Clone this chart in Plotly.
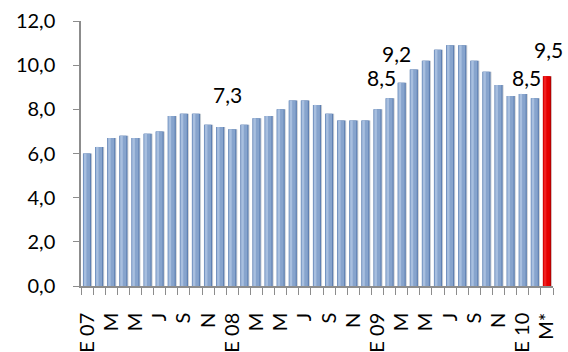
import plotly.graph_objects as go

# Monthly series, January 2007 to March 2010 (last month is provisional)
values = [
    6.0, 6.3, 6.7, 6.8, 6.7, 6.9, 7.0, 7.7, 7.8, 7.8, 7.3, 7.2,   # 2007
    7.1, 7.3, 7.6, 7.7, 8.0, 8.4, 8.4, 8.2, 7.8, 7.5, 7.5, 7.5,   # 2008
    8.0, 8.5, 9.2, 9.8, 10.2, 10.7, 10.9, 10.9, 10.2, 9.7, 9.1, 8.6,  # 2009
    8.7, 8.5, 9.5,                                                # 2010
]
# Tick labels, one every second month starting in January 2007
tick_labels = ["E 07", "M", "M", "J", "S", "N",
               "E 08", "M", "M", "J", "S", "N",
               "E 09", "M", "M", "J", "S", "N",
               "E 10", "M*"]
# Months that carry a value label: (bar index, x shift px, y shift px)
labelled = [(13, -17, 30), (25, -8, 21), (26, -5, 29), (37, -8, 21), (38, 2, 27)]

n = len(values)
xs = list(range(n))
highlight_last = [i == n - 1 for i in xs]


def shade(blue, red):
    return [red if h else blue for h in highlight_last]


fig = go.Figure()

# soft drop shadow, base edge, body and highlight stripe give a rounded look
layers = [
    (0.72, -0.30, shade("#cfd2d6", "#d8c8c8")),
    (0.68, -0.34, shade("#5f80b2", "#b80000")),
    (0.54, -0.30, shade("#87a4cd", "#e60000")),
    (0.20, -0.25, shade("#a8bfdf", "#f02020")),
]
for width, offset, colors in layers:
    fig.add_trace(go.Bar(
        x=xs, y=values, width=width, offset=offset,
        marker=dict(color=colors, line=dict(width=0)),
        hoverinfo="skip", showlegend=False,
    ))

for idx, dx, dy in labelled:
    fig.add_annotation(
        x=xs[idx], y=values[idx], xref="x", yref="y",
        text=f"{values[idx]:.1f}".replace(".", ","),
        showarrow=False, xshift=dx, yshift=dy,
        font=dict(family="Lato", size=21, color="#000000"),
    )

fig.update_layout(
    width=568, height=352,
    margin=dict(l=81, r=15, t=21, b=66),
    paper_bgcolor="white", plot_bgcolor="white",
    barmode="overlay",
    separators=",.",
    font=dict(family="Lato", size=20, color="#000000"),
    xaxis=dict(
        range=[-0.5, n - 0.5],
        tickmode="array",
        tickvals=xs[::2],
        ticktext=tick_labels,
        tickangle=-90,
        ticks="",
        ticklabelstandoff=17,
        automargin=False,
        showgrid=False, zeroline=False,
        showline=True, linecolor="#8c8c8c", linewidth=1.5,
        minor=dict(ticks="outside", tick0=-0.5, dtick=1, ticklen=7,
                   tickcolor="#8c8c8c", tickwidth=1, showgrid=False),
        fixedrange=True,
    ),
    yaxis=dict(
        range=[0, 12],
        tickmode="linear", tick0=0, dtick=2,
        tickformat=".1f",
        ticks="outside", ticklen=6, tickcolor="#8c8c8c", tickwidth=1,
        ticklabelstandoff=14,
        automargin=False,
        showgrid=False, zeroline=False,
        showline=True, linecolor="#8c8c8c", linewidth=1.5,
        fixedrange=True,
    ),
)

fig.write_html("out.html")
